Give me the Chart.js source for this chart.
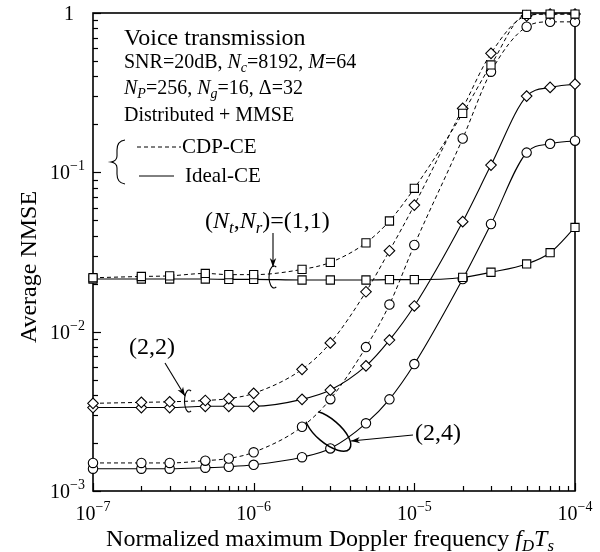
<!DOCTYPE html>
<html>
<head>
<meta charset="utf-8">
<script src="https://cdn.jsdelivr.net/npm/chart.js@4.4.0/dist/chart.umd.min.js"></script>
<style>
  html, body { margin: 0; padding: 0; background: #fff; }
</style>
</head>
<body>
<canvas id="myChart" width="600" height="552"></canvas>
<script>
// Oś X: znormalizowana częstotliwość Dopplera
const dopplerX = [1e-7, 2e-7, 3e-7, 5e-7, 7e-7, 1e-6, 2e-6, 3e-6, 5e-6, 7e-6, 1e-5, 2e-5, 3e-5, 5e-5, 7e-5, 1e-4];

// (Nt,Nr)=(1,1) - kwadraty
const cdp11   = [0.0218, 0.0222, 0.0224, 0.0232, 0.0228, 0.0228, 0.0246, 0.0272, 0.0361, 0.0495, 0.0794, 0.2345, 0.472, 0.98, 0.985, 0.985];
const ideal11 = [0.0214, 0.0214, 0.0214, 0.0214, 0.0213, 0.0213, 0.0211, 0.0211, 0.0211, 0.0212, 0.0212, 0.0219, 0.0236, 0.0266, 0.0313, 0.0451];
// (2,2) - romby
const cdp22   = [0.00355, 0.0036, 0.00363, 0.0037, 0.0038, 0.0041, 0.0058, 0.0085, 0.0178, 0.0322, 0.0623, 0.252, 0.558, 0.96, 0.985, 0.985];
const ideal22 = [0.00334, 0.00334, 0.00334, 0.0034, 0.0034, 0.0034, 0.00376, 0.0043, 0.0061, 0.00886, 0.0145, 0.049, 0.111, 0.301, 0.341, 0.358];
// (2,4) - kółka
const cdp24   = [0.0015, 0.0015, 0.0015, 0.00155, 0.0016, 0.00175, 0.00253, 0.00377, 0.0080, 0.0148, 0.035, 0.163, 0.428, 0.82, 0.88, 0.88];
const ideal24 = [0.00138, 0.00138, 0.00138, 0.0014, 0.00142, 0.00146, 0.00163, 0.00185, 0.00266, 0.00376, 0.00626, 0.0214, 0.0474, 0.133, 0.151, 0.158];

const xDecades = [-7, -6, -5, -4];
const yDecades = [-3, -2, -1, 0];

const FONT = '"Liberation Serif", "Times New Roman", serif';

function toPoints(arr) {
    return arr.map((v, i) => ({ x: dopplerX[i], y: v }));
}

function series(label, data, style, dashed) {
    return {
        label: label,
        data: toPoints(data),
        borderColor: '#000',
        borderWidth: dashed ? 1 : 1.1,
        borderDash: dashed ? [4, 3] : [],
        pointStyle: style,
        pointRadius: style === 'rect' ? 5.8 : (style === 'rectRot' ? 5.3 : 4.7),
        pointBorderWidth: 1.1,
        pointBorderColor: '#000',
        pointBackgroundColor: '#fff',
        cubicInterpolationMode: 'monotone',
        fill: false,
        clip: false
    };
}

// rysuje tekst z indeksami dolnymi/górnymi
function runsWidth(ctx, runs, size) {
    let w = 0;
    runs.forEach(r => {
        const fs = (r.sub || r.sup) ? size * 0.7 : size;
        ctx.font = (r.it ? 'italic ' : '') + fs + 'px ' + FONT;
        w += ctx.measureText(r.t).width;
    });
    return w;
}

function drawRuns(ctx, runs, x, y, size) {
    let cx = x;
    runs.forEach(r => {
        const fs = (r.sub || r.sup) ? size * 0.7 : size;
        ctx.font = (r.it ? 'italic ' : '') + fs + 'px ' + FONT;
        const dy = r.sub ? size * 0.22 : (r.sup ? -size * 0.45 : 0);
        ctx.fillText(r.t, cx, y + dy);
        cx += ctx.measureText(r.t).width;
    });
}

function line(ctx, x1, y1, x2, y2) {
    ctx.beginPath();
    ctx.moveTo(x1, y1);
    ctx.lineTo(x2, y2);
    ctx.stroke();
}

function arrow(ctx, x1, y1, x2, y2) {
    line(ctx, x1, y1, x2, y2);
    const ang = Math.atan2(y2 - y1, x2 - x1);
    const len = 9, hw = 3.2;
    ctx.beginPath();
    ctx.moveTo(x2, y2);
    ctx.lineTo(x2 - len * Math.cos(ang) + hw * Math.sin(ang), y2 - len * Math.sin(ang) - hw * Math.cos(ang));
    ctx.lineTo(x2 - len * 0.7 * Math.cos(ang), y2 - len * 0.7 * Math.sin(ang));
    ctx.lineTo(x2 - len * Math.cos(ang) - hw * Math.sin(ang), y2 - len * Math.sin(ang) + hw * Math.cos(ang));
    ctx.closePath();
    ctx.fill();
}

const decor = {
    id: 'decor',
    beforeDatasetsDraw(chart) {
        const { ctx, chartArea: a, scales: { x, y } } = chart;
        ctx.save();
        ctx.strokeStyle = '#000';
        ctx.lineWidth = 1.2;
        // znaczniki osi (do środka)
        xDecades.forEach(e => {
            for (let m = 1; m <= 9; m++) {
                const v = m * Math.pow(10, e);
                if (e === -4 && m > 1) break;
                const px = Math.round(x.getPixelForValue(v)) + 0.5;
                line(ctx, px, a.bottom, px, a.bottom - (m === 1 ? 8 : 5));
            }
        });
        yDecades.forEach(e => {
            for (let m = 1; m <= 9; m++) {
                const v = m * Math.pow(10, e);
                if (e === 0 && m > 1) break;
                const py = Math.round(y.getPixelForValue(v)) + 0.5;
                line(ctx, a.left, py, a.left + (m === 1 ? 8 : 5), py);
            }
        });
        ctx.lineWidth = 1.6;
        ctx.strokeRect(a.left, a.top, a.right - a.left, a.bottom - a.top);
        ctx.restore();
    },
    afterDraw(chart) {
        const { ctx, chartArea: a, scales: { x, y } } = chart;
        ctx.save();
        ctx.fillStyle = '#000';
        ctx.strokeStyle = '#000';
        ctx.textBaseline = 'alphabetic';
        ctx.textAlign = 'left';

        // etykiety osi X
        xDecades.forEach(e => {
            const runs = [{ t: '10' }, { t: '\u2212' + (-e), sup: true }];
            const w = runsWidth(ctx, runs, 20);
            drawRuns(ctx, runs, x.getPixelForValue(Math.pow(10, e)) - w / 2, a.bottom + 29, 20);
        });
        // etykiety osi Y
        yDecades.forEach(e => {
            const py = y.getPixelForValue(Math.pow(10, e));
            if (e === 0) {
                ctx.font = '20px ' + FONT;
                ctx.fillText('1', 74 - ctx.measureText('1').width, py + 7);
                return;
            }
            const runs = [{ t: '10' }, { t: '\u2212' + (-e), sup: true }];
            const w = runsWidth(ctx, runs, 20);
            drawRuns(ctx, runs, 85 - w, py + 7, 20);
        });

        // tytuł osi X
        const xt = [{ t: 'Normalized maximum Doppler frequency ' }, { t: 'f', it: true }, { t: 'D', it: true, sub: true }, { t: 'T', it: true }, { t: 's', it: true, sub: true }];
        const xw = runsWidth(ctx, xt, 24);
        drawRuns(ctx, xt, 330 - xw / 2, 546, 24);

        // tytuł osi Y
        ctx.save();
        ctx.translate(36, 267);
        ctx.rotate(-Math.PI / 2);
        ctx.font = '24px ' + FONT;
        ctx.textAlign = 'center';
        ctx.fillText('Average NMSE', 0, 0);
        ctx.restore();
        ctx.textAlign = 'left';

        // opis parametrów
        ctx.font = '24px ' + FONT;
        ctx.fillText('Voice transmission', 124, 45);
        drawRuns(ctx, [{ t: 'SNR=20dB, ' }, { t: 'N', it: true }, { t: 'c', it: true, sub: true }, { t: '=8192, ' }, { t: 'M', it: true }, { t: '=64' }], 124, 68, 20);
        drawRuns(ctx, [{ t: 'N', it: true }, { t: 'P', it: true, sub: true }, { t: '=256, ' }, { t: 'N', it: true }, { t: 'g', it: true, sub: true }, { t: '=16, \u0394=32' }], 124, 94, 20);
        drawRuns(ctx, [{ t: 'Distributed + MMSE' }], 124, 121, 20);

        // legenda z klamrą
        ctx.lineWidth = 1;
        ctx.setLineDash([4, 3]);
        line(ctx, 137, 147, 181, 147);
        ctx.setLineDash([]);
        line(ctx, 139, 176, 174, 176);
        drawRuns(ctx, [{ t: 'CDP-CE' }], 182, 153, 21);
        drawRuns(ctx, [{ t: 'Ideal-CE' }], 185, 182, 21);
        ctx.lineWidth = 1.1;
        ctx.beginPath();
        ctx.moveTo(125, 140);
        ctx.quadraticCurveTo(117, 141, 117, 150);
        ctx.lineTo(117, 156);
        ctx.quadraticCurveTo(117, 161, 111, 162);
        ctx.quadraticCurveTo(117, 163, 117, 168);
        ctx.lineTo(117, 174);
        ctx.quadraticCurveTo(117, 183, 125, 184);
        ctx.stroke();

        // opisy krzywych
        const lbl11 = [{ t: '(' }, { t: 'N', it: true }, { t: 't', it: true, sub: true }, { t: ',' }, { t: 'N', it: true }, { t: 'r', it: true, sub: true }, { t: ')=(1,1)' }];
        drawRuns(ctx, lbl11, 205, 228, 24);
        drawRuns(ctx, [{ t: '(2,2)' }], 129, 354, 24);
        drawRuns(ctx, [{ t: '(2,4)' }], 415, 440, 24);

        ctx.lineWidth = 1.1;
        arrow(ctx, 273, 233, 273, 267);
        arrow(ctx, 165, 363, 185, 396);
        arrow(ctx, 413, 435, 351, 441);

        ctx.beginPath();
        ctx.ellipse(274, 277, 5, 11, 0, 0.35 * Math.PI, 1.65 * Math.PI);
        ctx.stroke();
        ctx.beginPath();
        ctx.ellipse(189, 401, 4.5, 11, 0, 0.35 * Math.PI, 1.65 * Math.PI);
        ctx.stroke();
        ctx.lineWidth = 1.5;
        ctx.beginPath();
        ctx.ellipse(328, 431, 28, 12, 40 * Math.PI / 180, -0.75 * Math.PI, 0.8 * Math.PI);
        ctx.stroke();

        ctx.restore();
    }
};

const ctx = document.getElementById('myChart').getContext('2d');
const myChart = new Chart(ctx, {
    type: 'line',
    data: {
        datasets: [
            series('CDP-CE (1,1)', cdp11, 'rect', true),
            series('Ideal-CE (1,1)', ideal11, 'rect', false),
            series('CDP-CE (2,2)', cdp22, 'rectRot', true),
            series('Ideal-CE (2,2)', ideal22, 'rectRot', false),
            series('CDP-CE (2,4)', cdp24, 'circle', true),
            series('Ideal-CE (2,4)', ideal24, 'circle', false)
        ]
    },
    options: {
        responsive: false,
        animation: false,
        devicePixelRatio: 1,
        layout: { padding: { left: 93, right: 25, top: 13, bottom: 61 } },
        plugins: { legend: { display: false }, tooltip: { enabled: false } },
        scales: {
            x: { type: 'logarithmic', min: 1e-7, max: 1e-4, display: false },
            y: { type: 'logarithmic', min: 1e-3, max: 1, display: false }
        }
    },
    plugins: [decor]
});
</script>
</body>
</html>
